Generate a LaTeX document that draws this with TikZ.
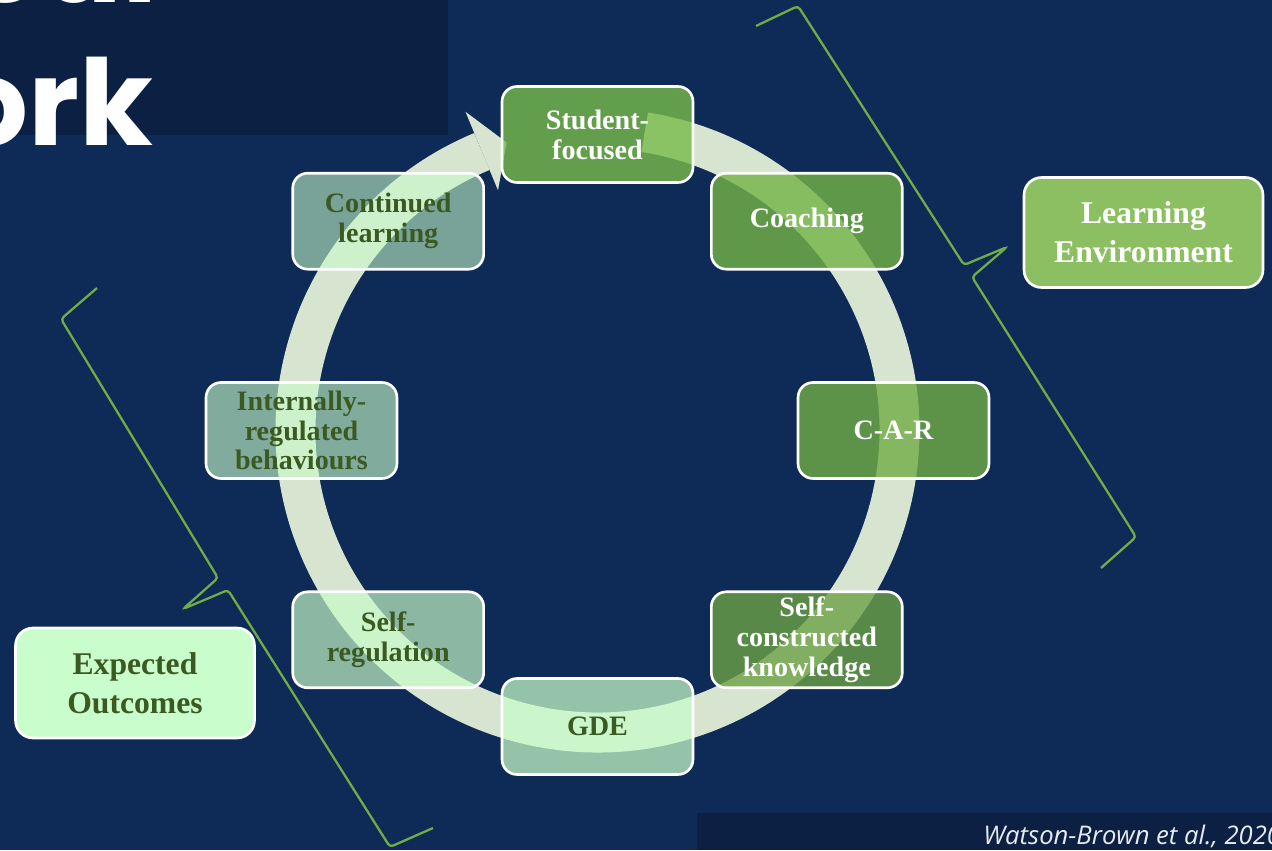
\documentclass[tikz,border=0pt]{standalone}
\usepackage{fontspec}
\setmainfont{Liberation Serif}
\newfontfamily\headfont{Poppins}
\newfontfamily\citefont{Open Sans}

\definecolor{navy}{HTML}{0E2A57}
\definecolor{darknavy}{HTML}{0B2042}
\definecolor{ringgrey}{HTML}{D6E4D0}
\definecolor{mint}{HTML}{C8FCC8}
\definecolor{mintlight}{HTML}{C9FDCB}
\definecolor{leafgreen}{HTML}{3A5A22}
\definecolor{leafbright}{HTML}{8CBF61}
\definecolor{bracegreen}{HTML}{70AD47}
\definecolor{citewhite}{HTML}{E6EBF0}
\definecolor{greenA}{HTML}{77BB48}
\definecolor{greenB}{HTML}{74B446}
\definecolor{greenC}{HTML}{71AC46}
\definecolor{greenD}{HTML}{6CA146}

\begin{document}
\begin{tikzpicture}[x=0.02cm, y=0.02cm,
    cyclebox/.style={draw=white, line width=1.5pt, rounded corners=0.3cm,
      minimum width=3.82cm, minimum height=1.92cm, inner sep=0pt,
      align=center, text opacity=1,
      font=\bfseries\fontsize{16}{17}\selectfont},
    greenbox/.style={cyclebox, fill=#1, fill opacity=0.8, text=white},
    mintbox/.style={cyclebox, fill=mint, fill opacity=#1, text=leafgreen},
    sidebox/.style={draw=white, line width=1.5pt, rounded corners=0.35cm,
      minimum width=4.78cm, minimum height=2.2cm, inner sep=0pt,
      align=center, font=\bfseries\fontsize{18}{22}\selectfont},
    bracket/.style={draw=bracegreen, line width=1.3pt, rounded corners=2pt}]

  % slide background
  \fill[navy] (0,0) rectangle (1272,850);
  \fill[darknavy] (0,715) rectangle (448,850);
  \fill[darknavy] (697,0) rectangle (1272,37);
  \useasboundingbox (0,0) rectangle (1272,850);
  \clip (0,0) rectangle (1272,850);

  % cut-off title
  \node[anchor=base east, inner sep=0pt, text=white,
    font=\headfont\bfseries\fontsize{68}{72}\selectfont] (titletop) at (158,847) {Theoretical};
  \node[anchor=base east, inner sep=0pt, text=white,
    font=\headfont\bfseries\fontsize{68}{72}\selectfont] (titlelow) at (154,704) {Framework};

  \begin{scope}[shift={(597.5,419.5)}]
    % circular arrow
    \draw[ringgrey, line width=0.8cm] (81:302) arc[start angle=81, end angle=-247.5, radius=302];
    \fill[ringgrey] (112.5:345) -- (107.5:302) -- (112.5:260) -- cycle;

    \node[greenbox=greenA] (student) at (90:296) {Student-\\focused};
    \node[greenbox=greenB] (coaching) at (45:296) {Coaching};
    \node[greenbox=greenC] (car) at (0:296) {C-A-R};
    \node[greenbox=greenD] (selfknow) at (-45:296) {Self-\\constructed\\knowledge};
    \node[mintbox=0.73] (gde) at (-90:296) {GDE};
    \node[mintbox=0.68] (selfreg) at (-135:296) {Self-\\regulation};
    \node[mintbox=0.62] (internal) at (180:296) {Internally-\\regulated\\behaviours};
    \node[mintbox=0.58] (continued) at (135:296) {Continued\\learning};
  \end{scope}

  \node[sidebox, fill=leafbright, text=white] (environment) at (1143.5,617.5) {Learning\\Environment};
  \node[sidebox, fill=mintlight, text=leafgreen] (outcomes) at (135,167) {Expected\\Outcomes};

  % braces
  \draw[bracket] (756,824) -- (798,844) -- (964,585) -- (1007,603) -- (972,573) -- (1136,313) -- (1101,282);
  \draw[bracket] (97,562) -- (61,531) -- (218,272) -- (183,241) -- (228,260) -- (390,3) -- (433,22);

  \node[anchor=base west, inner sep=0pt, text=citewhite,
    font=\citefont\itshape\fontsize{14.6}{17}\selectfont] (cite) at (983,6) {Watson-Brown et al., 2020};
\end{tikzpicture}
\end{document}
